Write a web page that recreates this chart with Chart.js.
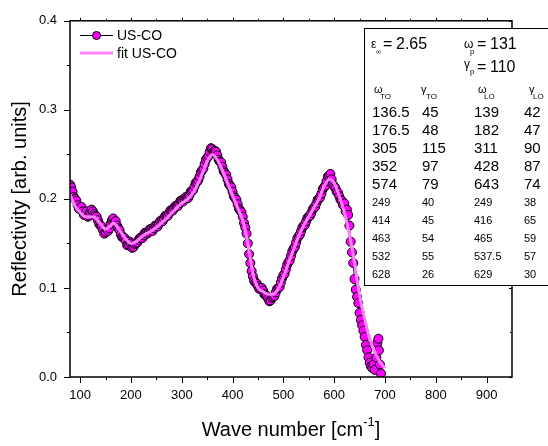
<!DOCTYPE html>
<html>
<head>
<meta charset="utf-8">
<script src="https://cdn.jsdelivr.net/npm/chart.js@4.4.1/dist/chart.umd.min.js"></script>
<style>
  html, body { margin: 0; padding: 0; background: #fff; }
</style>
</head>
<body>
<canvas id="reflChart" width="548" height="446"></canvas>
<script>
  // measured reflectivity (wave number in cm^-1)
  const measX = [80,85,90,95,100,105,110,115,120,125,
    130,135,140,145,150,155,160,165,170,175,
    180,185,190,195,200,205,210,215,220,225,
    230,235,240,245,250,255,260,265,270,275,
    280,285,290,295,300,305,310,315,320,325,
    330,335,340,345,350,355,360,365,370,375,
    380,385,390,395,400,405,410,415,420,425,
    430,435,440,445,450,455,460,465,470,475,
    480,485,490,495,500,505,510,515,520,525,
    530,535,540,545,550,555,560,565,570,575,
    580,585,590,595,600,605,610,615,620,625,
    630,635,640,645,650,655,660,665,670,675,
    680,683,685,687,688,690,692];
  const measY = [0.216,0.208,0.200,0.193,0.190,0.186,0.183,0.180,0.185,0.186,
    0.181,0.176,0.170,0.165,0.163,0.164,0.172,0.178,0.175,0.167,
    0.160,0.157,0.153,0.149,0.150,0.146,0.150,0.154,0.157,0.159,
    0.162,0.163,0.166,0.167,0.170,0.172,0.176,0.178,0.181,0.184,
    0.187,0.190,0.192,0.195,0.198,0.200,0.201,0.204,0.209,0.214,
    0.219,0.225,0.232,0.239,0.246,0.253,0.256,0.254,0.249,0.242,
    0.236,0.229,0.222,0.215,0.208,0.201,0.194,0.187,0.180,0.168,
    0.150,0.128,0.113,0.106,0.102,0.100,0.097,0.092,0.088,0.086,
    0.090,0.095,0.100,0.106,0.114,0.121,0.129,0.136,0.144,0.151,
    0.158,0.164,0.170,0.175,0.180,0.184,0.190,0.195,0.200,0.206,
    0.213,0.220,0.226,0.222,0.214,0.208,0.203,0.198,0.195,0.188,
    0.170,0.140,0.110,0.090,0.072,0.058,0.045,0.030,0.016,0.010,
    0.008,0.022,0.038,0.043,0.030,0.014,0.004];
  // in-between measured points
  const measX2 = [82.5,87.5,92.5,97.5,102.5,107.5,112.5,117.5,122.5,127.5,
    132.5,137.5,142.5,147.5,152.5,157.5,162.5,167.5,172.5,177.5,
    182.5,187.5,192.5,197.5,202.5,207.5,212.5,217.5,222.5,227.5,
    232.5,237.5,242.5,247.5,252.5,257.5,262.5,267.5,272.5,277.5,
    282.5,287.5,292.5,297.5,302.5,307.5,312.5,317.5,322.5,327.5,
    332.5,337.5,342.5,347.5,352.5,357.5,362.5,367.5,372.5,377.5,
    382.5,387.5,392.5,397.5,402.5,407.5,412.5,417.5,422.5,427.5,
    432.5,437.5,442.5,447.5,452.5,457.5,462.5,467.5,472.5,477.5,
    482.5,487.5,492.5,497.5,502.5,507.5,512.5,517.5,522.5,527.5,
    532.5,537.5,542.5,547.5,552.5,557.5,562.5,567.5,572.5,577.5,
    582.5,587.5,592.5,597.5,602.5,607.5,612.5,617.5,622.5,627.5,
    632.5,637.5,642.5,647.5,652.5,657.5,662.5,667.5,672.5,677.5];
  const measY2 = [0.213,0.202,0.198,0.189,0.191,0.182,0.186,0.181,0.188,0.183,
    0.180,0.172,0.169,0.161,0.166,0.167,0.176,0.174,0.170,0.165,
    0.157,0.156,0.148,0.152,0.145,0.149,0.151,0.156,0.156,0.162,
    0.161,0.166,0.164,0.170,0.169,0.175,0.175,0.181,0.181,0.187,
    0.187,0.192,0.192,0.198,0.197,0.202,0.201,0.208,0.210,0.218,
    0.221,0.230,0.234,0.244,0.248,0.257,0.253,0.253,0.244,0.241,
    0.231,0.227,0.217,0.213,0.203,0.199,0.189,0.185,0.173,0.161,
    0.138,0.119,0.108,0.105,0.099,0.100,0.093,0.091,0.085,0.089,
    0.091,0.099,0.101,0.111,0.116,0.126,0.131,0.141,0.146,0.156,
    0.160,0.168,0.171,0.179,0.181,0.188,0.191,0.199,0.202,0.211,
    0.215,0.225,0.228,0.216,0.212,0.207,0.199,0.193,0.186,0.182,
    0.152,0.128,0.098,0.083,0.064,0.052,0.036,0.022,0.012,0.014];

  // fitted curve
  const fitX = [80,90,100,110,120,130,140,150,160,165,
    170,180,190,200,210,220,230,240,250,260,
    270,280,290,300,310,320,330,340,350,360,
    370,380,390,400,410,420,430,440,450,460,
    470,480,490,500,510,520,530,540,550,560,
    570,580,590,600,610,620,630,640,650,660,
    670,680,690,700];
  const fitY = [0.205,0.192,0.185,0.180,0.180,0.179,0.172,0.166,0.170,0.173,
    0.171,0.163,0.155,0.150,0.152,0.157,0.161,0.164,0.168,0.173,
    0.178,0.184,0.190,0.195,0.199,0.205,0.215,0.228,0.242,0.250,
    0.244,0.232,0.218,0.204,0.190,0.176,0.150,0.116,0.100,0.096,
    0.093,0.093,0.099,0.112,0.128,0.143,0.158,0.170,0.180,0.190,
    0.200,0.214,0.222,0.218,0.203,0.185,0.160,0.128,0.092,0.065,
    0.043,0.028,0.017,0.010];

  const xTicks = [100,200,300,400,500,600,700,800,900];
  const xMinor = [150,250,350,450,550,650,750,850];
  const yTicks = [0.0,0.1,0.2,0.3,0.4];
  const yMinor = [0.05,0.15,0.25,0.35];

  // fit parameters shown in the box
  const epsInf = '2.65';
  const omegaP = '131';
  const gammaP = '110';
  const modeHeads = [['\u03C9','TO'],['\u03B3','TO'],['\u03C9','LO'],['\u03B3','LO']];
  const strongModes = [['136.5','45','139','42'],['176.5','48','182','47'],['305','115','311','90'],['352','97','428','87'],['574','79','643','74']];
  const weakModes = [['249','40','249','38'],['414','45','416','65'],['463','54','465','59'],['532','55','537.5','57'],['628','26','629','30']];

  const FONT = '"Liberation Sans", Arial, sans-serif';
  Chart.defaults.font.family = FONT;
  Chart.defaults.color = '#000';

  const decorations = {
    id: 'decorations',
    afterDraw(chart) {
      const ctx = chart.ctx;
      const a = chart.chartArea;
      const xs = chart.scales.x, ys = chart.scales.y;
      ctx.save();

      // frame + ticks
      ctx.strokeStyle = '#000';
      ctx.lineWidth = 1.5;
      ctx.strokeRect(a.left, a.top, a.right - a.left, a.bottom - a.top);
      ctx.lineWidth = 1;
      ctx.beginPath();
      xTicks.forEach(v => {
        const p = Math.round(xs.getPixelForValue(v)) + 0.5;
        ctx.moveTo(p, a.bottom); ctx.lineTo(p, a.bottom + 6);
        ctx.moveTo(p, a.top); ctx.lineTo(p, a.top - 3);
      });
      xMinor.forEach(v => {
        const p = Math.round(xs.getPixelForValue(v)) + 0.5;
        ctx.moveTo(p, a.bottom); ctx.lineTo(p, a.bottom + 3);
        ctx.moveTo(p, a.top); ctx.lineTo(p, a.top - 2);
      });
      yTicks.forEach(v => {
        const p = Math.round(ys.getPixelForValue(v)) + 0.5;
        ctx.moveTo(a.left, p); ctx.lineTo(a.left - 6, p);
        ctx.moveTo(a.right, p); ctx.lineTo(a.right - 3, p);
      });
      yMinor.forEach(v => {
        const p = Math.round(ys.getPixelForValue(v)) + 0.5;
        ctx.moveTo(a.left, p); ctx.lineTo(a.left - 3, p);
        ctx.moveTo(a.right, p); ctx.lineTo(a.right - 2, p);
      });
      ctx.stroke();

      // x axis title with superscript
      ctx.fillStyle = '#000';
      ctx.textBaseline = 'alphabetic';
      ctx.textAlign = 'left';
      const t1 = 'Wave number [cm', t2 = '-1', t3 = ']';
      ctx.font = '20px ' + FONT;
      const w1 = ctx.measureText(t1).width, w3 = ctx.measureText(t3).width;
      ctx.font = '13px ' + FONT;
      const w2 = ctx.measureText(t2).width;
      let tx = (a.left + a.right) / 2 - (w1 + w2 + w3) / 2;
      const ty = 436;
      ctx.font = '20px ' + FONT;
      ctx.fillText(t1, tx, ty);
      ctx.font = '13px ' + FONT;
      ctx.fillText(t2, tx + w1, ty - 10);
      ctx.font = '20px ' + FONT;
      ctx.fillText(t3, tx + w1 + w2, ty);

      // legend
      const ds = chart.data.datasets;
      const meas = ds.find(d => d.label === 'US-CO');
      const fit = ds.find(d => d.label === 'fit US-CO');
      ctx.font = '14px ' + FONT;
      ctx.textBaseline = 'middle';
      ctx.strokeStyle = meas.borderColor; ctx.lineWidth = 1;
      ctx.beginPath(); ctx.moveTo(80, 35.5); ctx.lineTo(113, 35.5); ctx.stroke();
      ctx.beginPath(); ctx.arc(96.5, 35.5, 4, 0, Math.PI * 2);
      ctx.fillStyle = meas.pointBackgroundColor; ctx.fill();
      ctx.strokeStyle = meas.pointBorderColor; ctx.stroke();
      ctx.fillStyle = '#000';
      ctx.fillText(meas.label, 117, 36);
      ctx.strokeStyle = fit.borderColor; ctx.lineWidth = fit.borderWidth;
      ctx.beginPath(); ctx.moveTo(80, 53); ctx.lineTo(113, 53); ctx.stroke();
      ctx.fillText(fit.label, 117, 54);

      // parameter box
      ctx.fillStyle = '#fff';
      ctx.fillRect(364, 28, 200, 258);
      ctx.strokeStyle = '#000'; ctx.lineWidth = 1;
      ctx.strokeRect(364.5, 28.5, 200, 257);

      ctx.fillStyle = '#000';
      ctx.textBaseline = 'alphabetic';
      const sym = (g, sub, x, y, gs, ss, sx) => {
        ctx.font = gs + 'px ' + FONT; ctx.fillText(g, x, y);
        ctx.font = ss + 'px ' + FONT; ctx.fillText(sub, sx, y + 6);
      };
      sym('\u03B5', '\u221E', 371, 48, 12, 7, 376);
      ctx.font = '16px ' + FONT;
      ctx.fillText('=', 383, 49); ctx.fillText(epsInf, 396, 49);
      sym('\u03C9', 'p', 464, 48, 12, 8, 470);
      ctx.font = '16px ' + FONT;
      ctx.fillText('=', 477, 49); ctx.fillText(omegaP, 490, 49);
      sym('\u03B3', 'p', 464, 68, 12, 8, 470);
      ctx.font = '16px ' + FONT;
      ctx.fillText('=', 477, 71.5); ctx.fillText(gammaP, 490, 71.5);

      const headX = [374, 421, 478, 529];
      const subX = [380, 426, 484, 533];
      modeHeads.forEach((h, i) => sym(h[0], h[1], headX[i], 93, 11, 8, subX[i]));

      const colX = [372, 422, 474, 524];
      ctx.font = '15px ' + FONT;
      strongModes.forEach((row, r) => {
        row.forEach((s, c) => ctx.fillText(s, colX[c], 117 + r * 18));
      });
      ctx.font = '11px ' + FONT;
      weakModes.forEach((row, r) => {
        row.forEach((s, c) => ctx.fillText(s, colX[c], 206 + r * 18));
      });

      ctx.restore();
    }
  };

  const measPts = measX.map((x, i) => ({ x: x, y: measY[i] }))
    .concat(measX2.map((x, i) => ({ x: x, y: measY2[i] })))
    .sort((p, q) => p.x - q.x);

  const ctx = document.getElementById('reflChart');

  new Chart(ctx, {
    type: 'scatter',
    data: {
      datasets: [{
        label: 'US-CO',
        data: measPts,
        showLine: true,
        borderColor: '#000000',
        borderWidth: 1,
        pointRadius: 4.5,
        pointBackgroundColor: '#ff00ff',
        pointBorderColor: '#000000',
        pointBorderWidth: 1,
        order: 1
      }, {
        label: 'fit US-CO',
        data: fitX.map((x, i) => ({ x: x, y: fitY[i] })),
        showLine: true,
        borderColor: '#ff80ff',
        borderWidth: 3,
        pointRadius: 0,
        cubicInterpolationMode: 'monotone',
        order: 0
      }]
    },
    options: {
      responsive: false,
      animation: false,
      layout: { padding: { left: 0, top: 18, right: 36, bottom: 0 } },
      plugins: { legend: { display: false }, tooltip: { enabled: false } },
      scales: {
        x: {
          type: 'linear', min: 80, max: 950,
          border: { display: false },
          grid: { display: false, drawTicks: false },
          afterBuildTicks: s => { s.ticks = xTicks.map(v => ({ value: v })); },
          afterFit: s => { s.height = 69; },
          ticks: { padding: 11, font: { size: 13 }, maxRotation: 0, autoSkip: false, callback: v => String(v) }
        },
        y: {
          type: 'linear', min: 0, max: 0.4,
          border: { display: false },
          grid: { display: false, drawTicks: false },
          afterBuildTicks: s => { s.ticks = yTicks.map(v => ({ value: v })); },
          afterFit: s => { s.width = 70; },
          ticks: { padding: 13, font: { size: 13 }, callback: v => v.toFixed(1) },
          title: { display: true, text: 'Reflectivity [arb. units]', font: { size: 20 }, padding: { top: 8, bottom: 0 } }
        }
      }
    },
    plugins: [decorations]
  });
</script>
</body>
</html>
